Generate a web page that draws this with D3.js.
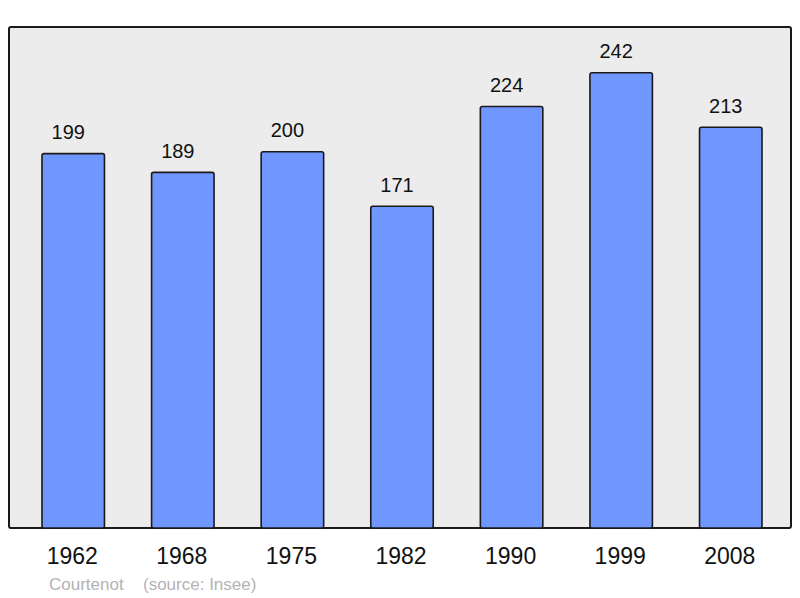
<!DOCTYPE html>
<html><head><meta charset="utf-8">
<script src="https://cdn.jsdelivr.net/npm/d3@7"></script>
<style>html,body{margin:0;padding:0;background:#fff}</style>
</head><body>
<script>
const years = ["1962","1968","1975","1982","1990","1999","2008"];
const population = [199,189,200,171,224,242,213];
const sourceParts = ["Courtenot","(source: Insee)"];

const W=800,H=598;
const svg=d3.select("body").append("svg").attr("width",W).attr("height",H)
  .style("font-family","'Liberation Sans', Arial, sans-serif");

const frame={x0:9,y0:27,x1:791,y1:528};
svg.append("rect").attr("x",frame.x0).attr("y",frame.y0)
  .attr("width",frame.x1-frame.x0).attr("height",frame.y1-frame.y0)
  .attr("rx",2).attr("fill","#ececec").attr("stroke","#1a1a1a").attr("stroke-width",2);

const x=d3.scaleBand().domain(years).range([42,762]).paddingInner(0.43).paddingOuter(0);
const y=d3.scaleLinear().domain([0,242]).range([528,72.7]);

const g=svg.append("g");
g.selectAll("rect.bar").data(years).join("rect").attr("class","bar")
  .attr("x",d=>x(d)).attr("width",x.bandwidth())
  .attr("y",(d,i)=>y(population[i])).attr("height",(d,i)=>y(0)-y(population[i]))
  .attr("rx",2).attr("fill","#7096ff").attr("stroke","#1a1a1a").attr("stroke-width",1.6);

g.selectAll("text.val").data(years).join("text").attr("class","val")
  .attr("x",d=>x(d)+x.bandwidth()/2-5).attr("y",(d,i)=>y(population[i])-14.5)
  .attr("text-anchor","middle").attr("font-size",20).attr("fill","#111")
  .text((d,i)=>population[i]);

const axis=d3.axisBottom(x).tickSize(0).tickPadding(0);
const ag=svg.append("g").attr("transform","translate(-1,564)").call(axis);
ag.select(".domain").remove();
ag.selectAll("text").attr("dy",0).attr("y",0).attr("font-size",23).attr("fill","#111")
  .style("font-family","'Liberation Sans', Arial, sans-serif");

const sx=[49,143];
svg.selectAll("text.src").data(sourceParts).join("text").attr("class","src")
  .attr("x",(d,i)=>sx[i]).attr("y",590).attr("font-size",17).attr("fill","#b3b3b3")
  .text(d=>d);
</script>
</body></html>
